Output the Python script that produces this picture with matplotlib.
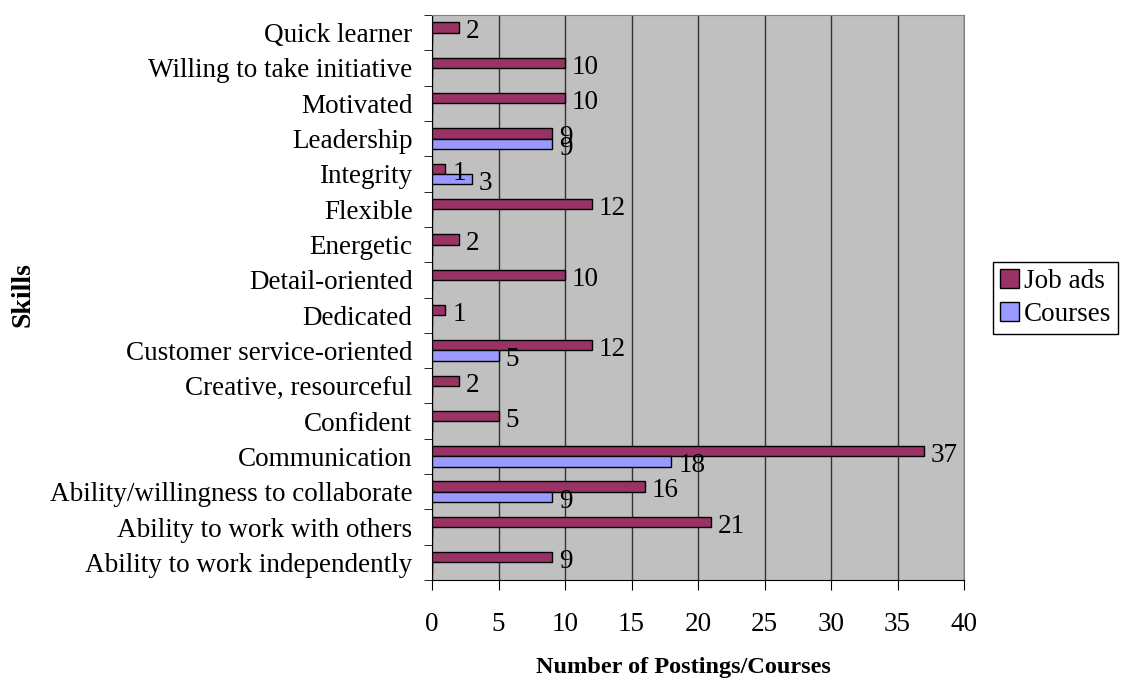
import matplotlib.pyplot as plt
import numpy as np

# skills, bottom to top
skills = ["Ability to work independently", "Ability to work with others",
          "Ability/willingness to collaborate", "Communication", "Confident",
          "Creative, resourceful", "Customer service-oriented", "Dedicated",
          "Detail-oriented", "Energetic", "Flexible", "Integrity", "Leadership",
          "Motivated", "Willing to take initiative", "Quick learner"]
job_ads = [9, 21, 16, 37, 5, 2, 12, 1, 10, 2, 12, 1, 9, 10, 10, 2]
courses = [0, 0, 9, 18, 0, 0, 5, 0, 0, 0, 0, 3, 9, 0, 0, 0]
x_ticks = [0, 5, 10, 15, 20, 25, 30, 35, 40]

plt.rcParams['font.family'] = ['Liberation Serif', 'DejaVu Serif']
fs = 19.5

fig = plt.figure(figsize=(11.22, 6.8), dpi=100)
ax = fig.add_axes([432/1122, 1-580/680, (964-432)/1122, (580-15)/680])
ax.set_facecolor('#c0c0c0')

y = np.arange(len(skills))
h = 0.29
b1 = ax.barh(y + h/2, job_ads, height=h, color='#993366', edgecolor='black',
             linewidth=1, label='Job ads', zorder=3)
b2 = ax.barh(y - h/2, courses, height=h, color='#9999ff', edgecolor='black',
             linewidth=1, label='Courses', zorder=3)

# value labels (no label where value is 0)
for vals, off in [(job_ads, h/2), (courses, -h/2)]:
    for yi, v in zip(y, vals):
        if v:
            ax.annotate(str(v), (v, yi + off), xytext=(5, -1),
                        textcoords='offset points', fontsize=fs,
                        ha='left', va='center_baseline', zorder=4)

ax.set_xlim(0, 40)
ax.set_ylim(-0.5, len(skills) - 0.5)
ax.set_xticks(x_ticks)
ax.set_xticklabels([str(t) for t in x_ticks], fontsize=fs)
ax.set_yticks(y)
ax.set_yticklabels(skills, fontsize=fs)
ax.set_yticks(np.arange(-0.5, len(skills)), minor=True)
ax.tick_params(axis='y', which='major', length=0, pad=14)
ax.tick_params(axis='y', which='minor', length=6, direction='out', color='black')
ax.tick_params(axis='x', length=7, pad=16, color='black')

ax.grid(axis='x', color='#333333', linewidth=1, zorder=1)
ax.set_axisbelow(True)
ax.spines['left'].set_color('black')
ax.spines['bottom'].set_color('black')
ax.spines['top'].set_color('#808080')
ax.spines['right'].set_color('#808080')

fig.text(683/1122, 1-667/680, 'Number of Postings/Courses', fontsize=17.5,
         fontweight='bold', ha='center', va='center')
fig.text(23/1122, 1-295/680, 'Skills', fontsize=20, fontweight='bold',
         rotation=90, ha='center', va='center')

leg = fig.legend(handles=[b1, b2], loc='center left',
                 bbox_to_anchor=(993/1122, 1-298/680), fontsize=fs,
                 fancybox=False, edgecolor='black', framealpha=1,
                 handlelength=0.7, handleheight=0.7, handletextpad=0.2,
                 borderpad=0.25, labelspacing=0.3, borderaxespad=0)
leg.get_frame().set_linewidth(1)

fig.savefig('out.png', dpi=100)
